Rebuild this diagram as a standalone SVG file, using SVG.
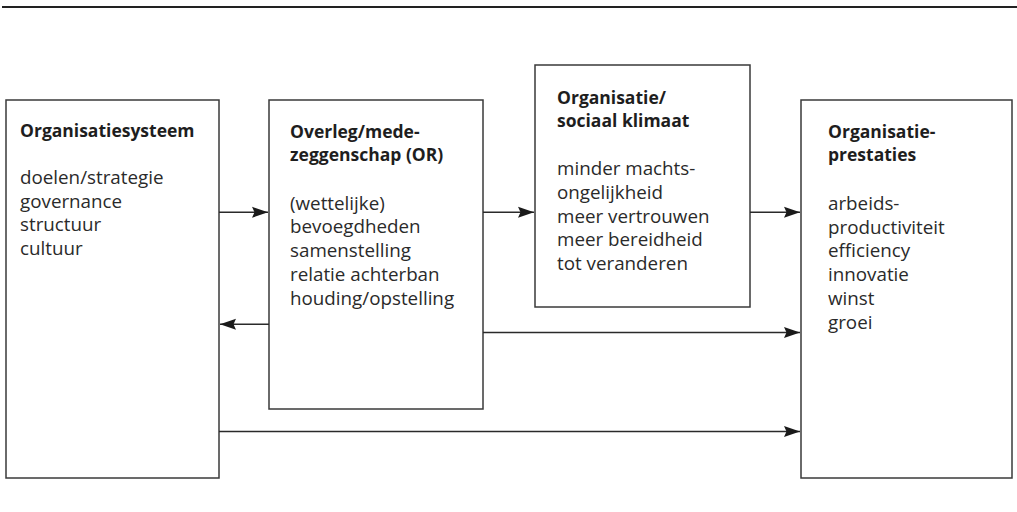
<svg xmlns="http://www.w3.org/2000/svg" width="1017" height="512" viewBox="0 0 1017 512">
<defs>
<marker id="ah" markerUnits="userSpaceOnUse" markerWidth="17" markerHeight="12" refX="16" refY="6" orient="auto">
<path d="M0,0.5 L16,6 L0,11.5 L2.5,6 z" fill="#1a1a1a"/>
</marker>
<style>
.box{fill:#fff;stroke:#3a3a3a;stroke-width:1.5}
.t{font-family:"Open Sans","Liberation Sans",sans-serif;font-size:17.5px;font-weight:bold;fill:#1e1e1e}
.b{font-family:"Open Sans","Liberation Sans",sans-serif;font-size:18.8px;fill:#2a2a2a}
.c{stroke:#2a2a2a;stroke-width:1.4;fill:none}
</style>
</defs>
<rect x="0" y="0" width="1017" height="512" fill="#fff"/>
<line x1="2" y1="7" x2="1017" y2="7" stroke="#222" stroke-width="2"/>
<g id="n1">
<rect class="box" x="6" y="100" width="213" height="378"/>
<text class="t" x="20" y="137">Organisatiesysteem</text>
<text class="b" x="20" y="184">doelen/strategie</text>
<text class="b" x="20" y="207.7">governance</text>
<text class="b" x="20" y="231.4">structuur</text>
<text class="b" x="20" y="255.1">cultuur</text>
</g>
<g id="n2">
<rect class="box" x="269" y="100" width="214" height="309"/>
<text class="t" x="290" y="137.5">Overleg/mede-</text>
<text class="t" x="290" y="161.2">zeggenschap (OR)</text>
<text class="b" x="290" y="209.7">(wettelijke)</text>
<text class="b" x="290" y="233.4">bevoegdheden</text>
<text class="b" x="290" y="257.1">samenstelling</text>
<text class="b" x="290" y="280.8">relatie achterban</text>
<text class="b" x="290" y="304.5">houding/opstelling</text>
</g>
<g id="n3">
<rect class="box" x="535" y="65" width="215" height="242"/>
<text class="t" x="557" y="103.5">Organisatie/</text>
<text class="t" x="557" y="127.2">sociaal klimaat</text>
<text class="b" x="557" y="175.3">minder machts-</text>
<text class="b" x="557" y="199">ongelijkheid</text>
<text class="b" x="557" y="222.7">meer vertrouwen</text>
<text class="b" x="557" y="246.4">meer bereidheid</text>
<text class="b" x="557" y="270.1">tot veranderen</text>
</g>
<g id="n4">
<rect class="box" x="801" y="100" width="211" height="378"/>
<text class="t" x="828" y="137.5">Organisatie-</text>
<text class="t" x="828" y="161.2">prestaties</text>
<text class="b" x="828" y="210">arbeids-</text>
<text class="b" x="828" y="233.7">productiviteit</text>
<text class="b" x="828" y="257.4">efficiency</text>
<text class="b" x="828" y="281.1">innovatie</text>
<text class="b" x="828" y="304.8">winst</text>
<text class="b" x="828" y="328.5">groei</text>
</g>
<g id="connectors">
<line class="c" x1="219" y1="212.3" x2="268" y2="212.3" marker-end="url(#ah)"/>
<line class="c" x1="269" y1="324.3" x2="220" y2="324.3" marker-end="url(#ah)"/>
<line class="c" x1="483" y1="212.3" x2="534" y2="212.3" marker-end="url(#ah)"/>
<line class="c" x1="750" y1="212.3" x2="800" y2="212.3" marker-end="url(#ah)"/>
<line class="c" x1="483" y1="332.5" x2="800" y2="332.5" marker-end="url(#ah)"/>
<line class="c" x1="219" y1="431.5" x2="800" y2="431.5" marker-end="url(#ah)"/>
</g>
</svg>
